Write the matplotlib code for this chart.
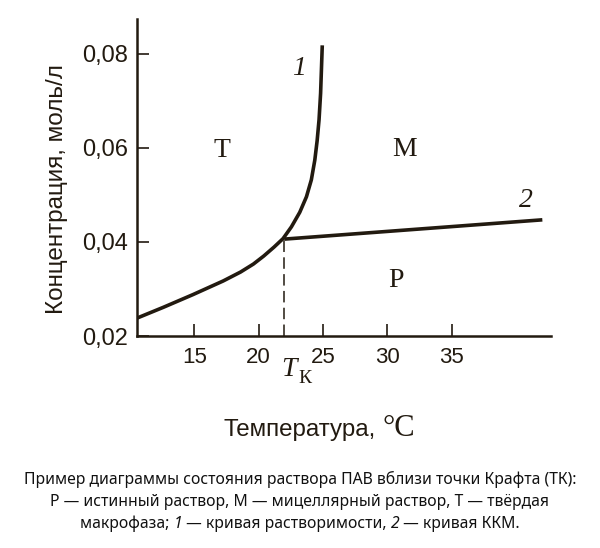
import numpy as np
import matplotlib.pyplot as plt

# curve 1 - solubility, curve 2 - CMC
temp_solub = [10.55, 12.6, 14.9, 17.25, 18.6, 19.6, 20.4, 21.2, 21.9, 22.55,
              23.2, 23.72, 24.1, 24.37, 24.55, 24.7, 24.82, 24.95]
conc_solub = [0.0238, 0.0261, 0.0288, 0.0317, 0.0336, 0.0353, 0.0370, 0.0389, 0.0407, 0.0432,
              0.0463, 0.0496, 0.0532, 0.0574, 0.0615, 0.0660, 0.0716, 0.0818]
temp_cmc = [22.0, 42.05]
conc_cmc = [0.0406, 0.0447]
t_kraft = 22.0
x_ticks = [15, 20, 25, 30, 35]
y_ticks = [0.02, 0.04, 0.06, 0.08]
y_ticklabels = ["0,02", "0,04", "0,06", "0,08"]

ink = "#221a10"
sans = "Liberation Sans"
serif = "Liberation Serif"

fig = plt.figure(figsize=(6.0, 5.48), dpi=100)
ax = fig.add_axes([136.7 / 600, 1 - 336 / 548, 414 / 600, 317 / 548])

ax.plot(temp_solub, conc_solub, color=ink, lw=2.6, solid_capstyle="butt",
        solid_joinstyle="round")
ax.plot(temp_cmc, conc_cmc, color=ink, lw=2.6, solid_capstyle="butt")
ax.plot([t_kraft, t_kraft], [0.02, conc_cmc[0]], color=ink, lw=1.1, dashes=(7.5, 3.5))

ax.set_xlim(10.53, 42.7)
ax.set_ylim(0.02, 0.0874)
for s in ["top", "right"]:
    ax.spines[s].set_visible(False)
for s in ["left", "bottom"]:
    ax.spines[s].set_color(ink)
    ax.spines[s].set_linewidth(1.8)

ax.set_xticks(x_ticks)
ax.set_xticklabels([str(t) for t in x_ticks])
ax.set_yticks(y_ticks)
ax.set_yticklabels(y_ticklabels)
ax.tick_params(direction="in", length=8.5, width=1.2, color=ink, labelcolor=ink)
ax.tick_params(axis="x", pad=8, labelsize=16)
ax.tick_params(axis="y", pad=6, labelsize=17)
for lab in ax.get_xticklabels() + ax.get_yticklabels():
    lab.set_family(sans)

# region labels
ax.text(17.13, 0.0594, "T", family=serif, fontsize=20, color=ink, ha="center", va="center")
ax.text(31.36, 0.0596, "M", family=serif, fontsize=20, color=ink, ha="center", va="center")
ax.text(30.71, 0.0319, "P", family=serif, fontsize=20, color=ink, ha="center", va="center")
ax.text(40.8, 0.0489, "2", family=serif, style="italic", fontsize=20, color=ink,
        ha="center", va="center")
ax.text(23.15, 0.0768, "1", family=serif, style="italic", fontsize=20, color=ink,
        ha="center", va="center")

# T_K under the axis
fig.text(289 / 600, 1 - 376 / 548, "T", family=serif, style="italic", fontsize=20,
         color=ink, ha="center", va="baseline")
fig.text(305 / 600, 1 - 383 / 548, "К", family=serif, fontsize=14,
         color=ink, ha="center", va="baseline")

# axis labels
fig.text(56.5 / 600, 1 - 189.5 / 548, "Концентрация, моль/л", family=sans, fontsize=17.5,
         color=ink, rotation=90, ha="center", va="center")
fig.text(376 / 600, 1 - 436 / 548, "Температура,", family=sans, fontsize=17.4,
         color=ink, ha="right", va="baseline")
fig.text(383 / 600, 1 - 436 / 548, "°C", family=serif, fontsize=22,
         color=ink, ha="left", va="baseline")

# caption
cap_font = dict(family="Noto Sans", fontsize=11.3, color="#111111", va="baseline")
cx = 300 / 600
fig.text(cx, 1 - 484 / 548,
         "Пример диаграммы состояния раствора ПАВ вблизи точки Крафта (ТК):",
         ha="center", **cap_font)
fig.text(cx, 1 - 506 / 548,
         "Р — истинный раствор, М — мицеллярный раствор, Т — твёрдая",
         ha="center", **cap_font)

parts = [("макрофаза; ", "normal"), ("1", "italic"), (" — кривая растворимости, ", "normal"),
         ("2", "italic"), (" — кривая ККМ.", "normal")]
renderer = fig.canvas.get_renderer()
pieces = []
widths = []
for txt, st in parts:
    t = fig.text(0, 1 - 528 / 548, txt, ha="left", style=st, **cap_font)
    pieces.append(t)
    widths.append(t.get_window_extent(renderer).width)
total = sum(widths)
x0 = cx * 600 - total / 2
for t, w in zip(pieces, widths):
    t.set_x(x0 / 600)
    x0 += w

fig.savefig("out.png", dpi=100)
